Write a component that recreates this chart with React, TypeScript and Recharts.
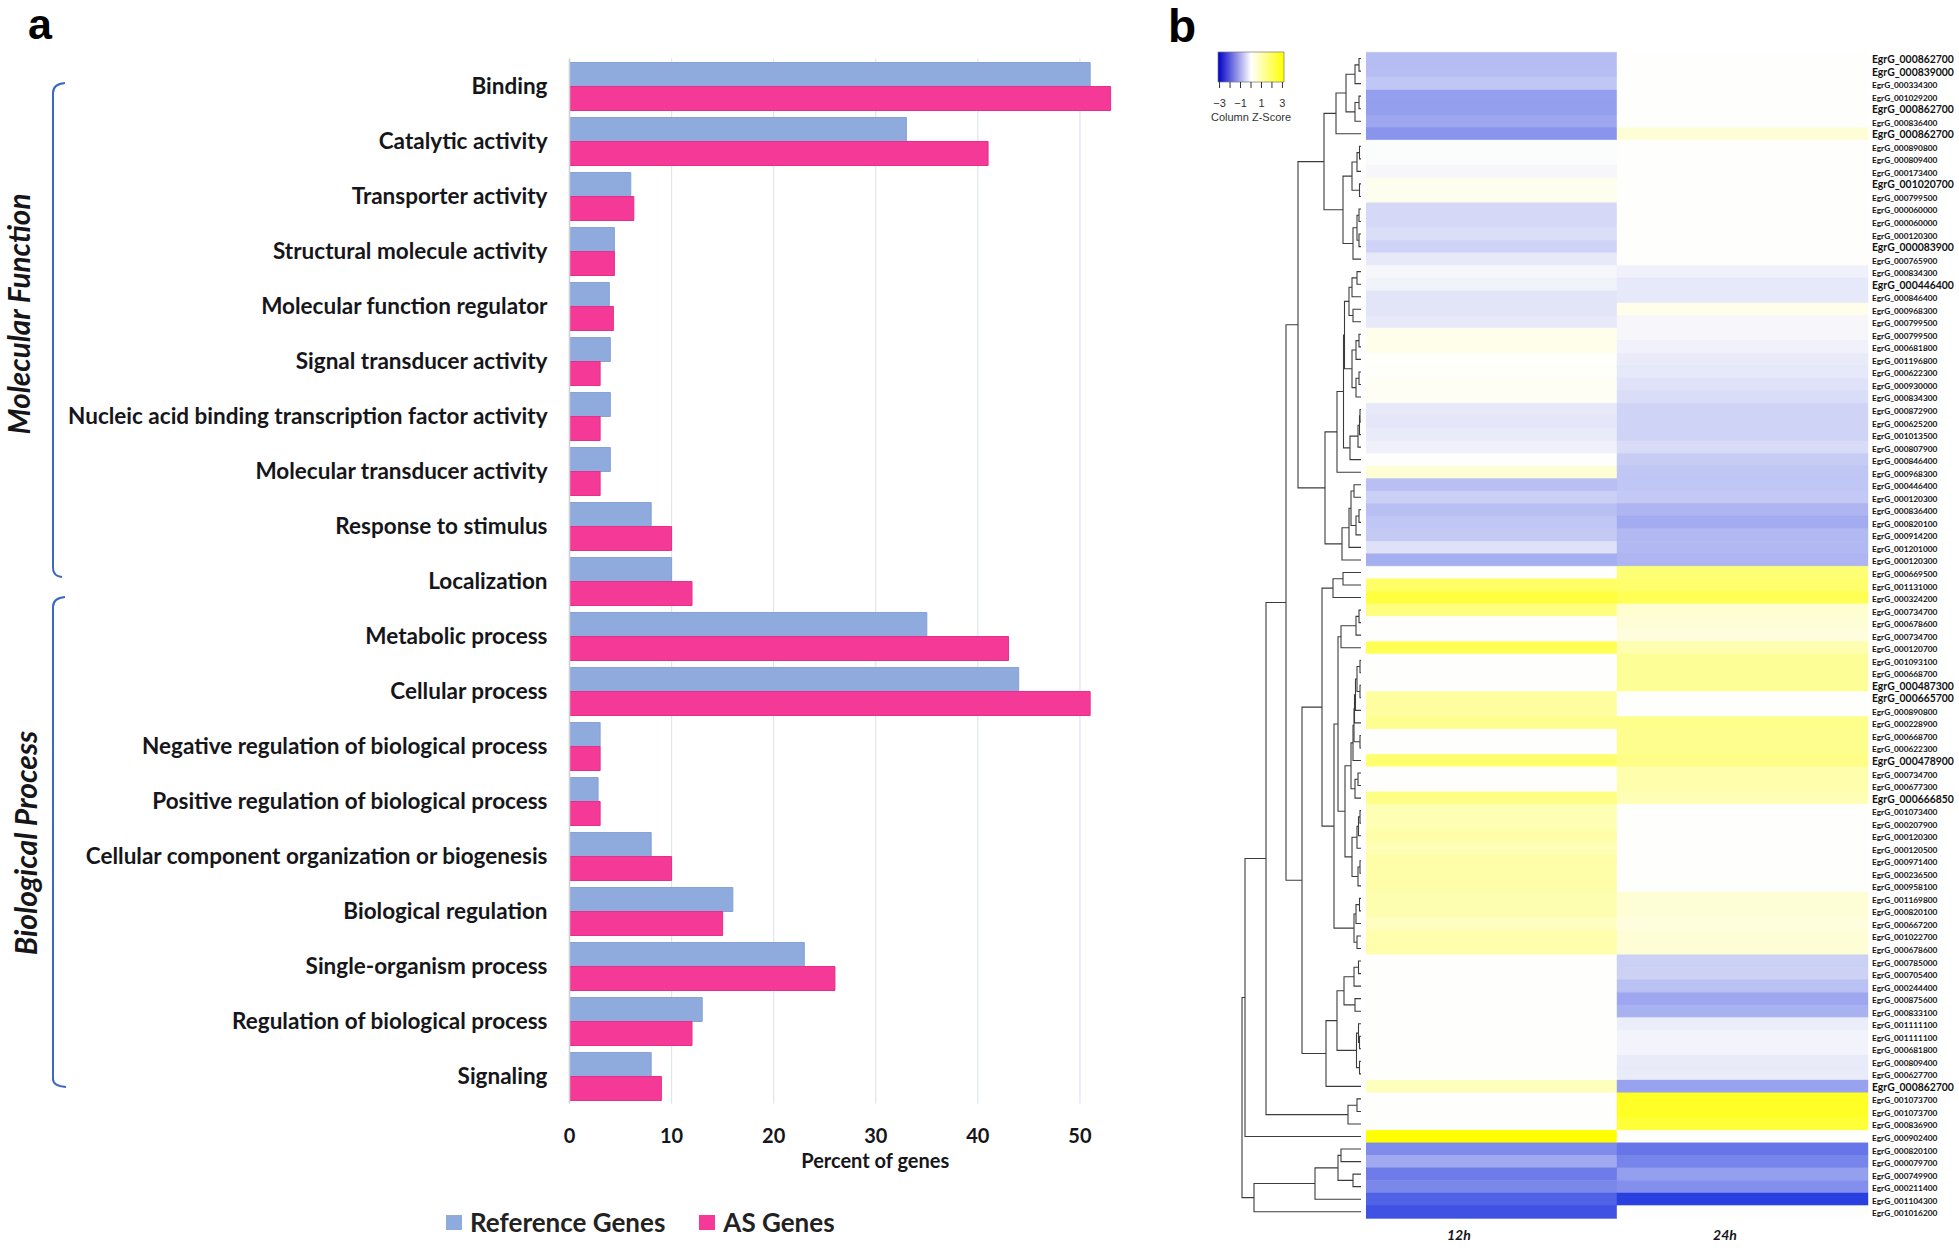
import {
  BarChart, Bar, Cell, XAxis, YAxis, CartesianGrid, Legend,
  ScatterChart, Scatter,
} from "recharts";

const categories = [
  "Binding", "Catalytic activity", "Transporter activity", "Structural molecule activity",
  "Molecular function regulator", "Signal transducer activity",
  "Nucleic acid binding transcription factor activity", "Molecular transducer activity",
  "Response to stimulus", "Localization", "Metabolic process", "Cellular process",
  "Negative regulation of biological process", "Positive regulation of biological process",
  "Cellular component organization or biogenesis", "Biological regulation",
  "Single-organism process", "Regulation of biological process", "Signaling",
];
const referenceGenes = [51, 33, 6, 4.4, 3.9, 4, 4, 4, 8, 10, 35, 44, 3, 2.8, 8, 16, 23, 13, 8];
const asGenes = [53, 41, 6.3, 4.4, 4.3, 3, 3, 3, 10, 12, 43, 51, 3, 3, 10, 15, 26, 12, 9];
const percentTicks = [0, 10, 20, 30, 40, 50];

const geneIds = [
  "000862700", "000839000", "000334300", "001029200", "000862700", "000836400", "000862700", "000890800",
  "000809400", "000173400", "001020700", "000799500", "000060000", "000060000", "000120300", "000083900",
  "000765900", "000834300", "000446400", "000846400", "000968300", "000799500", "000799500", "000681800",
  "001196800", "000622300", "000930000", "000834300", "000872900", "000625200", "001013500", "000807900",
  "000846400", "000968300", "000446400", "000120300", "000836400", "000820100", "000914200", "001201000",
  "000120300", "000669500", "001131000", "000324200", "000734700", "000678600", "000734700", "000120700",
  "001093100", "000668700", "000487300", "000665700", "000890800", "000228900", "000668700", "000622300",
  "000478900", "000734700", "000677300", "000666850", "001073400", "000207900", "000120300", "000120500",
  "000971400", "000236500", "000958100", "001169800", "000820100", "000667200", "001022700", "000678600",
  "000785000", "000705400", "000244400", "000875600", "000833100", "001111100", "001111100", "000681800",
  "000809400", "000627700", "000862700", "001073700", "001073700", "000836900", "000902400", "000820100",
  "000079700", "000749900", "000211400", "001104300", "001016200",
];
// rows whose label is set larger and bolder in the figure
const boldRows = [1, 2, 5, 7, 11, 16, 19, 51, 52, 57, 60, 83];

const z12h = [
  -0.85, -0.85, -0.72, -1.25, -1.25, -1.15, -1.38, -0.03, -0.03, -0.1, 0.15, 0.15, -0.48, -0.48, -0.42, -0.55,
  -0.27, -0.1, -0.15, -0.33, -0.33, -0.27, 0.2, 0.2, 0.02, 0.02, 0.1, 0.1, -0.27, -0.3, -0.25, -0.18,
  0, 0.45, -0.82, -0.62, -0.82, -0.72, -0.68, -0.38, -1.05, 0, 1.8, 2.25, 1.5, 0, 0, 2.0,
  0, 0, 0, 1.1, 1.1, 1.3, 0, 0, 1.7, 0, 0, 1.4, 0.85, 0.85, 1.0, 0.85,
  1.0, 1.0, 1.0, 0.9, 0.9, 0.7, 0.95, 0.95, 0, 0, 0, 0, 0, 0, 0, 0,
  0, 0, 0.75, 0, 0, 0, 3.0, -1.5, -1.1, -1.7, -1.55, -2.05, -2.25,
];
const z24h = [
  0, 0, 0, 0, 0, 0, 0.45, 0, 0, 0, 0, 0, 0, 0, 0, 0,
  0, -0.17, -0.28, -0.28, 0.2, -0.1, -0.1, -0.17, -0.25, -0.28, -0.37, -0.43, -0.55, -0.55, -0.55, -0.45,
  -0.65, -0.72, -0.72, -0.7, -0.95, -1.08, -0.9, -0.9, -0.95, 1.6, 1.7, 2.0, 0.55, 0.45, 0.35, 0.9,
  1.2, 1.2, 1.2, 0, 0, 1.35, 1.3, 1.3, 1.4, 0.95, 0.95, 0.85, 0, 0, 0, 0,
  0, 0, 0, 0.45, 0.45, 0.35, 0.45, 0.45, -0.6, -0.58, -0.8, -1.15, -1.0, -0.22, -0.13, -0.13,
  -0.25, -0.25, -1.2, 2.55, 2.55, 2.35, 0, -1.8, -1.6, -1.25, -1.45, -2.5, 0,
];
const timeLabels = ["12h", "24h"];
const timeTicks = [0.37, 1.43];
const keyTicks = [-3, -2, -1, 0, 1, 2, 3];
const keySpan = [-3.15, 3.15];

// row dendrogram as nested [height, left, right], a plain number is a heatmap row
const c1a = [25, [15, [6, [2, 1, 2], 3], [6, [2, 4, 5], 6]], 7];
const c1b = [18, [9, [4, [1.5, 8, 9], 10], [1.5, 11, 12]], [8, [4, [2, 13, 14], [2, 15, 16]], 17]];
const e = [12, [9, [4, 18, 19], 20], [8, 21, 22]];
const j = [9, [5, [2, 23, 24], 25], [5, [2, 26, 27], 28]];
const h = [11, [3, [1.5, [1, 29, 30], 31], 32], 33];
const c2a = [24, [17.5, [16.5, e, j], h], 34];
const k = [12, [10, [7, 35, 36], [5, [2, 37, 38], 39]], 40];
const c = [63, [37, c1a, c1b], [36, c2a, [19, k, 41]]];
const l = [20, [5, [2, 45, 46], 47], 48];
const p = [8, [7, [6.5, [5.5, [4, [1, 49, 50], [1, 51, 52]], 53], 54], [1, 55, 56]], 57];
const n = [10, p, [6, [3, 58, 59], 60]];
const o = [9, [4, [2.5, [1, 61, 62], 63], 64], [3, [1, 65, 66], 67]];
const d1 = [39, [28, [18, 42, 43], 44], [27, [23, l, [16, n, o]], [7, [5, [1.5, 68, 69], 70], [4, 71, 72]]]];
const u = [17, [7, [2.5, 73, 74], 75], [6, 76, 77]];
const v = [4.5, [2.5, 78, [1.5, 79, 80]], [1.5, 81, 82]];
const d = [59, d1, [35, [24, u, v], 83]];
const a = [116, [95, [75, c, d], [13, [4, 84, 85], 86]], 87];
const b = [107, [46, [23, [20, 88, 89], [8, 90, 91]], 92], 93];
const dendrogram = [119, a, b];

const barData = categories.map((name, i) => ({ name, refPct: referenceGenes[i], asPct: asGenes[i] }));
const heatData = geneIds.map((id, i) => ({ row: i + 1, id, h12: 1, h24: 1 }));
const keyData = [{ name: "z", span: keySpan }];

function zColor(z: number) {
  const t = Math.min(Math.abs(z) / 3, 1);
  const end = z < 0 ? [0, 25, 218] : [255, 255, 0];
  const base = [254, 254, 252];
  const mix = base.map((c, i) => Math.round(c + (end[i] - c) * t));
  return `rgb(${mix.join(",")})`;
}

// flatten the tree into one elbow per merge
function elbows(node: any, out: any[]): { x: number; y: number } {
  if (typeof node === "number") return { x: 0, y: node - 0.5 };
  const l = elbows(node[1], out);
  const r = elbows(node[2], out);
  out.push([l, { x: node[0], y: l.y }, { x: node[0], y: r.y }, r]);
  return { x: node[0], y: (l.y + r.y) / 2 };
}
const merges: any[] = [];
elbows(dendrogram, merges);

function GeneTick({ x, y, payload }: any) {
  const bold = boldRows.includes(payload.value);
  return (
    <text x={x} y={y + 4.5} fontFamily="Lato" fontWeight={700} fontSize={bold ? 10.4 : 8.3} fill="#111">
      EgrG_{geneIds[payload.value - 1]}
    </text>
  );
}

const font = "Lato, sans-serif";
const ink = "#16161a";

function GeneLegend({ payload }: any) {
  return (
    <div style={{ display: "flex", alignItems: "center", height: 30 }}>
      {(payload ?? []).map((item: any) => (
        <div key={item.value} style={{ display: "flex", alignItems: "center", marginRight: 34 }}>
          <span style={{ width: 16, height: 15, background: item.color, marginRight: 8 }} />
          <span style={{ fontFamily: font, fontWeight: 700, fontSize: 26, color: "#222" }}>{item.value}</span>
        </div>
      ))}
    </div>
  );
}

export default function App() {
  return (
    <div style={{ position: "absolute", left: 0, top: 0, width: 1959, height: 1250, background: "#fff", overflow: "hidden" }}>
      <div style={{ position: "absolute", left: 0, top: 0 }}>
        <BarChart
          width={1131}
          height={1250}
          layout="vertical"
          data={barData}
          margin={{ top: 58.5, right: 0, bottom: 76.5, left: 0 }}
          barCategoryGap={4}
          barGap={0}
        >
          <CartesianGrid horizontal={false} verticalValues={percentTicks} stroke="#dfe5ef" strokeWidth={1.2} />
          <XAxis
            type="number"
            domain={[0, 55]}
            ticks={percentTicks}
            axisLine={false}
            tickLine={false}
            tickMargin={19}
            height={70}
            tick={{ fontFamily: font, fontWeight: 700, fontSize: 20, fill: ink }}
            label={{
              value: "Percent of genes", position: "insideBottom", dx: 25, offset: 6,
              style: { fontFamily: font, fontWeight: 700, fontSize: 20, fill: ink },
            }}
          />
          <YAxis
            type="category"
            dataKey="name"
            width={569.5}
            interval={0}
            tickLine={false}
            tickMargin={22}
            tickSize={0}
            axisLine={{ stroke: "#cfd0d2", strokeWidth: 1.5 }}
            tick={{ fontFamily: font, fontWeight: 700, fontSize: 22.5, fill: ink }}
          />
          <Bar dataKey="refPct" name="Reference Genes" fill="#8faadc" stroke="#86a2d8" isAnimationActive={false} />
          <Bar dataKey="asPct" name="AS Genes" fill="#f43a96" stroke="#e62f8a" isAnimationActive={false} />
          <Legend
            verticalAlign="bottom"
            align="left"
            itemSorter={null}
            content={<GeneLegend />}
            wrapperStyle={{ left: 446, top: 1207, bottom: "auto", width: 520, height: 0 }}
          />
        </BarChart>
      </div>

      <div style={{ position: "absolute", left: 1240, top: 0 }}>
        <ScatterChart width={122} height={1250} margin={{ top: 52.3, right: 1, bottom: 32, left: 1 }}>
          <XAxis type="number" dataKey="x" domain={[0, 120]} reversed hide />
          <YAxis type="number" dataKey="y" domain={[0, 93]} reversed hide />
          {merges.map((seg, i) => (
            <Scatter
              key={i}
              data={seg}
              line={{ stroke: "#3c3c3c", strokeWidth: 1.1 }}
              lineType="joint"
              shape={() => <g />}
              isAnimationActive={false}
            />
          ))}
        </ScatterChart>
      </div>

      <div style={{ position: "absolute", left: 1366, top: 0 }}>
        <BarChart
          width={592}
          height={1250}
          layout="vertical"
          data={heatData}
          margin={{ top: 52.3, right: 0, bottom: 2, left: 0 }}
          barCategoryGap={0}
          barGap={0}
        >
          <XAxis
            type="number"
            domain={[0, 2]}
            ticks={timeTicks}
            tickFormatter={(_v: number, i: number) => timeLabels[i]}
            axisLine={false}
            tickLine={false}
            height={30}
            tickMargin={6}
            tick={{ fontFamily: font, fontWeight: 700, fontStyle: "italic", fontSize: 14, fill: ink }}
          />
          <YAxis
            type="category"
            dataKey="row"
            orientation="right"
            width={90}
            interval={0}
            axisLine={false}
            tickLine={false}
            tickSize={0}
            tickMargin={4}
            tick={<GeneTick />}
          />
          <Bar dataKey="h12" stackId="h" isAnimationActive={false}>
            {z12h.map((z, i) => (
              <Cell key={i} fill={zColor(z)} stroke={zColor(z)} strokeWidth={0.4} />
            ))}
          </Bar>
          <Bar dataKey="h24" stackId="h" isAnimationActive={false}>
            {z24h.map((z, i) => (
              <Cell key={i} fill={zColor(z)} stroke={zColor(z)} strokeWidth={0.4} />
            ))}
          </Bar>
        </BarChart>
      </div>

      <div style={{ position: "absolute", left: 1190, top: 40 }}>
        <BarChart
          width={122}
          height={90}
          layout="vertical"
          data={keyData}
          margin={{ top: 12, right: 28, bottom: 0, left: 28 }}
          barCategoryGap={0}
        >
          <defs>
            <linearGradient id="zKey" x1="0" x2="1" y1="0" y2="0">
              <stop offset="0" stopColor="#0000c8" />
              <stop offset="0.5" stopColor="#ffffff" />
              <stop offset="1" stopColor="#ffff00" />
            </linearGradient>
          </defs>
          <XAxis
            type="number"
            domain={keySpan}
            ticks={keyTicks}
            interval={0}
            tickSize={6}
            tickMargin={11}
            height={48}
            stroke="#333"
            axisLine={false}
            tickFormatter={(v: number) => (v % 2 === 0 ? "" : v < 0 ? `\u2212${-v}` : `${v}`)}
            tick={{ fontFamily: "Liberation Sans", fontSize: 11, fill: "#333" }}
            label={{
              value: "Column Z-Score", position: "insideBottom", offset: 9,
              style: { fontFamily: "Liberation Sans", fontSize: 11, fill: "#333" },
            }}
          />
          <YAxis type="category" dataKey="name" hide />
          <Bar dataKey="span" fill="url(#zKey)" stroke="#777" strokeWidth={0.7} isAnimationActive={false} />
        </BarChart>
      </div>

      <svg width={1959} height={1250} style={{ position: "absolute", left: 0, top: 0, pointerEvents: "none" }}>
        <path d="M65,83 Q53,84 53,93 L53,568 Q53,576 62,577" fill="none" stroke="#3a68c2" strokeWidth={2} />
        <path d="M65,597 Q53,598 53,607 L53,1079 Q53,1086 66,1087" fill="none" stroke="#3a68c2" strokeWidth={2} />
        <text transform="translate(30,314) rotate(-90)" textAnchor="middle" fontFamily={font} fontWeight={700} fontStyle="italic" fontSize={29.7} fill={ink}>
          Molecular Function
        </text>
        <text transform="translate(37,843) rotate(-90)" textAnchor="middle" fontFamily={font} fontWeight={700} fontStyle="italic" fontSize={30} fill={ink}>
          Biological Process
        </text>
        <text x={28} y={39} fontFamily="Liberation Sans" fontWeight={700} fontSize={43} fill="#000">a</text>
        <text x={1168} y={42} fontFamily="Liberation Sans" fontWeight={700} fontSize={46} fill="#000">b</text>
      </svg>
    </div>
  );
}
